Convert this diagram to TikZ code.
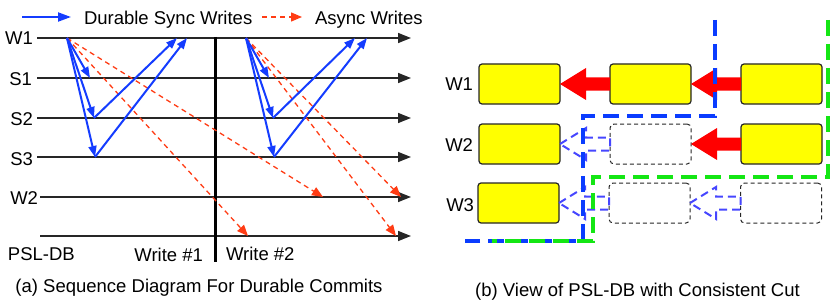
\documentclass[tikz,border=0pt]{standalone}
\usepackage{fontspec}
\setmainfont{Liberation Sans}
\usetikzlibrary{arrows.meta,calc}
\definecolor{seqblue}{RGB}{20,60,255}
\definecolor{asyncred}{RGB}{255,60,20}
\definecolor{cutblue}{RGB}{10,60,255}
\definecolor{cutgreen}{RGB}{20,230,20}
\definecolor{hollowblue}{RGB}{70,70,255}
\definecolor{boxyellow}{RGB}{255,255,0}
\definecolor{blockred}{RGB}{255,0,0}
\newcommand{\blkarrow}[3]{%
  \draw[#1] let \p1=(#3.east), \p2=(#2.west) in
    (\x1,\y1) -- (\x1+26pt,\y1+16pt) -- (\x1+26pt,\y1+6.5pt) -- (\x2,\y1+6.5pt)
    -- (\x2,\y1-6.5pt) -- (\x1+26pt,\y1-6.5pt) -- (\x1+26pt,\y1-16pt) -- cycle;}
\begin{document}
\begin{tikzpicture}[x=1pt,y=-1pt,
  every node/.style={font=\fontsize{18.5}{22}\selectfont, inner sep=0pt, outer sep=0pt},
  lbl/.style={anchor=base east},
  lblw/.style={anchor=base west},
  axis/.style={line width=1.5pt, black!85, -{Triangle[length=13pt,width=10pt]}},
  sync/.style={line width=2pt, seqblue, -{Triangle[length=11pt,width=8pt]}},
  async/.style={line width=1.3pt, asyncred, dash pattern=on 5pt off 4pt, -{Triangle[length=11pt,width=9pt]}},
  ybox/.style={draw=black!85, fill=boxyellow, line width=1.2pt, rounded corners=3pt, minimum width=81pt, minimum height=40pt},
  ebox/.style={draw=black!85, line width=1pt, dash pattern=on 4pt off 3pt, rounded corners=4pt, minimum width=81pt, minimum height=40pt},
  redarrow/.style={fill=blockred, draw=none},
  hollowarrow/.style={draw=hollowblue, line width=2pt, dash pattern=on 8pt off 5pt},
  cut/.style={line width=3.5pt, dash pattern=on 16pt off 8pt}
]
\useasboundingbox (0,0) rectangle (830,305);

% ---------- legend ----------
\coordinate (lgA) at (22,17); \coordinate (lgB) at (71,17);
\draw[sync, -{Triangle[length=13pt,width=9pt]}] (lgA) -- (lgB);
\node[lblw] (lgsync) at (84,25) {Durable Sync Writes};
\coordinate (lgC) at (262,17); \coordinate (lgD) at (302,17);
\draw[async] (lgC) -- (lgD);
\node[lblw] (lgasync) at (315,25) {Async Writes};

% ---------- left panel lines ----------
\node[lbl] (lW1) at (33,45) {W1};
\node[lbl] (lS1) at (32,85) {S1};
\node[lbl] (lS2) at (33,125) {S2};
\node[lbl] (lS3) at (33,165) {S3};
\node[lbl] (lW2) at (38,204) {W2};
\node[lblw] (lPSL) at (8,260) {PSL-DB};
\node[lbl] (lwr1) at (203,261) {Write \#1};
\node[lblw] (lwr2) at (226,260) {Write \#2};

\coordinate (w1s) at (37,38);  \coordinate (w1e) at (411,38);
\coordinate (s1s) at (37,78);  \coordinate (s1e) at (411,78);
\coordinate (s2s) at (37,118); \coordinate (s2e) at (411,118);
\coordinate (s3s) at (37,157); \coordinate (s3e) at (411,157);
\coordinate (w2s) at (40,197); \coordinate (w2e) at (411,197);
\coordinate (ps)  at (40,236); \coordinate (pe)  at (411,236);
\foreach \a/\b in {w1s/w1e,s1s/s1e,s2s/s2e,s3s/s3e,w2s/w2e,ps/pe}
  \draw[axis] (\a) -- (\b);
\coordinate (vt) at (215,37); \coordinate (vb) at (215,262);
\draw[line width=3pt, black] (vt) -- (vb);

% group 1
\coordinate (o1) at (67,38);
\coordinate (a1s1) at (90,78);
\coordinate (a1s2) at (94,118);
\coordinate (a1s3) at (95,157);
\coordinate (r1a) at (177,38);
\coordinate (r1b) at (187,38);
\coordinate (d1w2) at (323,197);
\coordinate (d1p) at (248,236);
\draw[async] (o1) -- (d1w2);
\draw[async] (o1) -- (d1p);
\draw[sync] (o1) -- (a1s1);
\draw[sync] (o1) -- (a1s2);
\draw[sync] (o1) -- (a1s3);
\draw[sync] (a1s2) -- (r1a);
\draw[sync] (a1s3) -- (r1b);

% group 2
\coordinate (o2) at (246,38);
\coordinate (a2s1) at (269,78);
\coordinate (a2s2) at (273,118);
\coordinate (a2s3) at (274,157);
\coordinate (r2a) at (355,38);
\coordinate (r2b) at (367,38);
\coordinate (d2w2) at (401,197);
\coordinate (d2p) at (396,236);
\draw[async] (o2) -- (d2w2);
\draw[async] (o2) -- (d2p);
\draw[sync] (o2) -- (a2s1);
\draw[sync] (o2) -- (a2s2);
\draw[sync] (o2) -- (a2s3);
\draw[sync] (a2s2) -- (r2a);
\draw[sync] (a2s3) -- (r2b);

\node (capa) at (199,292) [anchor=base] {(a) Sequence Diagram For Durable Commits};

% ---------- right panel ----------
\node[lbl] (rW1) at (473,91) {W1};
\node[lbl] (rW2) at (473,151) {W2};
\node[lbl] (rW3) at (474,211) {W3};

\node[ybox] (b11) at (519.5,84) {};
\node[ybox] (b12) at (650.5,84) {};
\node[ybox] (b13) at (781.5,84) {};
\node[ybox] (b21) at (519.5,144) {};
\node[ebox] (b22) at (650.5,144) {};
\node[ybox] (b23) at (781.5,144) {};
\node[ybox] (b31) at (518.5,203) {};
\node[ebox] (b32) at (649.5,203) {};
\node[ebox] (b33) at (781,203) {};

\blkarrow{redarrow}{b12}{b11}
\blkarrow{redarrow}{b13}{b12}
\blkarrow{redarrow}{b23}{b22}
\blkarrow{hollowarrow}{b22}{b21}
\blkarrow{hollowarrow}{b32}{b31}
\blkarrow{hollowarrow}{b33}{b32}

% consistent cuts
\draw[cut, cutblue] (715,20) -- (715,116) -- (583,116) -- (583,241) -- (465,241);
\draw[cut, cutgreen] (828,20) -- (828,177) -- (593,177) -- (593,241) -- (492,241);

\node (capb) at (637.5,296) [anchor=base] {(b) View of PSL-DB with Consistent Cut};
\end{tikzpicture}
\end{document}
